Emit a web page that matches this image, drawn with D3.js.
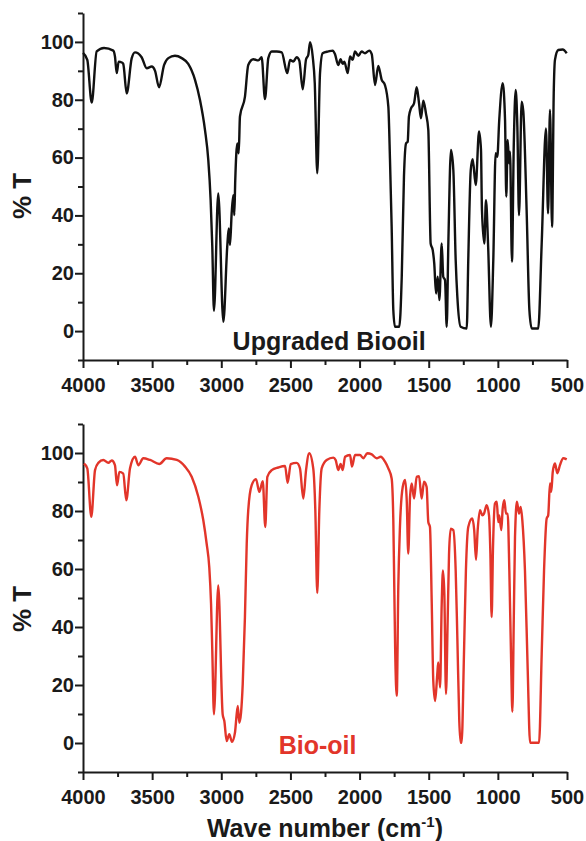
<!DOCTYPE html>
<html>
<head>
<meta charset="utf-8">
<script src="https://cdn.jsdelivr.net/npm/d3@7"></script>
<style>
  html, body { margin: 0; padding: 0; background: #fff; }
  svg { display: block; }
  text { font-family: "Liberation Sans", Arial, Helvetica, sans-serif; font-weight: bold; }
</style>
</head>
<body>
<div id="chart"></div>
<script>
// ---- data ----
const xTicks = [4000, 3500, 3000, 2500, 2000, 1500, 1000, 500];
const xMinor = [3750, 3250, 2750, 2250, 1750, 1250, 750];
const yTicks = [0, 20, 40, 60, 80, 100];
const yMinor = [-10, 10, 30, 50, 70, 90, 110];

// upgraded biooil (top panel)
const upWave = [
  4000, 3969, 3937, 3901, 3848, 3781, 3769, 3756, 3742, 3720,
  3709, 3684, 3648, 3624, 3576, 3539, 3503, 3479, 3450, 3414,
  3383, 3335, 3286, 3239, 3190, 3154, 3118, 3094, 3077, 3065,
  3053, 3022, 2985, 2957, 2946, 2937, 2925, 2913, 2906, 2899,
  2884, 2874, 2865, 2829, 2805, 2768, 2732, 2708, 2684, 2660,
  2635, 2599, 2563, 2523, 2503, 2479, 2455, 2436, 2411, 2387,
  2371, 2358, 2339, 2324, 2306, 2286, 2267, 2226, 2194, 2178,
  2154, 2137, 2122, 2110, 2086, 2069, 2050, 2033, 2009, 1985,
  1961, 1930, 1912, 1888, 1865, 1840, 1816, 1792, 1780, 1768,
  1756, 1744, 1713, 1695, 1679, 1664, 1652, 1643, 1628, 1606,
  1587, 1570, 1556, 1539, 1520, 1503, 1486, 1471, 1460, 1447,
  1435, 1423, 1406, 1395, 1382, 1370, 1358, 1339, 1322, 1305,
  1293, 1269, 1225, 1214, 1196, 1182, 1160, 1136, 1122, 1115,
  1098, 1086, 1071, 1050, 1033, 1016, 1004, 990, 965, 948,
  939, 929, 919, 912, 898, 885, 871, 859, 847, 828,
  816, 792, 772, 755, 708, 683, 652, 637, 623, 608,
  596, 587, 563, 531, 502
];
const upT = [
  96.2, 93.8, 79, 96.7, 97.9, 97, 95, 89.2, 93.2, 92.9,
  92.4, 82.2, 94.3, 96.4, 94.7, 90.9, 91.5, 90, 84.3, 92,
  94.4, 95.2, 94.4, 92.4, 86.9, 79.9, 69.6, 59.2, 45.3, 29.2,
  7, 47.6, 3.2, 29.2, 35.5, 29.8, 40.7, 47, 40.1, 52.2,
  64.9, 61.5, 74.2, 81, 92, 94, 93.6, 94.7, 80.2, 94.4,
  96.7, 96.7, 96.4, 89.2, 93.8, 93.2, 94.7, 93.6, 83.6, 94,
  95.5, 99.9, 95, 85.7, 54.6, 89.2, 96.1, 96.7, 97, 95.8,
  92, 94, 92.4, 93.2, 89.2, 95, 93.8, 96.7, 95.2, 96.7,
  96.1, 97, 95.8, 85.1, 91.7, 86.9, 85, 77.6, 59.2, 36.1,
  7.3, 1.5, 1.5, 18.8, 53.4, 64.9, 65.5, 74.2, 77, 78.8,
  84.3, 78.8, 73.6, 79.7, 75.3, 69.6, 30.3, 28, 23.4, 13,
  18.8, 10.7, 30.3, 18.8, 17.6, 1.5, 30.3, 62.6, 55.7, 24.6,
  11.9, 1.5, 0.9, 24.6, 55.7, 59.4, 50.5, 69, 62.7, 41.9,
  30.3, 45.3, 30.3, 1.5, 24.6, 61.5, 60.3, 73, 85.7, 73,
  46.5, 66.1, 58, 62, 24, 64, 83.4, 70.7, 40.1, 79.3,
  76, 41.9, 7.3, 0.9, 0.9, 30.3, 70.1, 40.7, 76.5, 36.1,
  82.2, 93.8, 97.2, 97.4, 96.1
];

// bio-oil (bottom panel)
const bioWave = [
  3993, 3969, 3940, 3913, 3889, 3853, 3817, 3792, 3769, 3754,
  3737, 3709, 3687, 3660, 3624, 3600, 3564, 3515, 3448, 3395,
  3322, 3262, 3214, 3166, 3130, 3106, 3087, 3074, 3065, 3053,
  3022, 2990, 2978, 2961, 2942, 2923, 2901, 2881, 2870, 2857,
  2845, 2829, 2816, 2805, 2780, 2749, 2725, 2700, 2682, 2667,
  2635, 2588, 2539, 2520, 2498, 2455, 2431, 2407, 2387, 2364,
  2335, 2320, 2306, 2291, 2274, 2238, 2190, 2173, 2154, 2137,
  2122, 2105, 2069, 2055, 2033, 1997, 1973, 1944, 1912, 1876,
  1847, 1816, 1792, 1768, 1756, 1749, 1742, 1731, 1720, 1708,
  1688, 1671, 1659, 1648, 1635, 1623, 1606, 1587, 1570, 1551,
  1534, 1515, 1503, 1491, 1478, 1467, 1454, 1438, 1431, 1418,
  1406, 1397, 1387, 1375, 1363, 1353, 1341, 1322, 1305, 1293,
  1279, 1269, 1262, 1245, 1231, 1214, 1185, 1171, 1158, 1146,
  1129, 1112, 1100, 1081, 1064, 1054, 1045, 1035, 1021, 1008,
  997, 990, 975, 965, 953, 941, 929, 917, 905, 895,
  885, 876, 862, 847, 835, 823, 804, 784, 767, 702,
  683, 666, 647, 636, 623, 614, 603, 587, 570, 551,
  527, 502
];
const bioT = [
  96.4, 94.7, 78, 94.1, 96.6, 97.6, 96.6, 97.4, 95.8, 88.9,
  93.5, 92.9, 83.7, 94.7, 98.7, 95.8, 98.2, 97.6, 96.2, 98.2,
  97.6, 95.3, 91.8, 84.9, 76.8, 68.8, 60.7, 48, 31.8, 9.9,
  54.3, 9.9, 7.6, 0.7, 3, 0.4, 3.6, 12.8, 7, 10.5,
  20.3, 43.4, 68.8, 80.3, 88.9, 91, 86.6, 90.3, 74.5, 91.8,
  94.1, 95, 95.5, 89.7, 96.2, 96.6, 94.7, 84.3, 94.1, 99.9,
  94.7, 80.3, 51.7, 80.3, 94.7, 97.6, 98.4, 97.6, 94.1, 96.2,
  94.1, 98.7, 99.3, 95.3, 99.3, 99.3, 98.2, 99.9, 99.5, 98.2,
  98.7, 97, 94.7, 91.2, 76.8, 53.7, 30.7, 16.3, 53.7, 74.5,
  88.3, 90.7, 83.7, 65.3, 84.9, 89.5, 84.3, 91.8, 92, 84.3,
  90.1, 88.3, 76.2, 74.5, 48, 21.5, 14.5, 23.8, 27.8, 19.1,
  48, 59.5, 51.5, 16.9, 42.2, 65.3, 73.9, 73.4, 59.5, 36.4,
  7.6, 0.1, 0.1, 30.7, 59.5, 74.5, 77.4, 73.4, 63.2, 73.4,
  80.3, 78.5, 79.1, 82, 78.5, 65.3, 43.4, 67.6, 82.6, 83.2,
  76.2, 78.5, 73.4, 80.9, 83.7, 79.1, 79.1, 59.5, 30.7, 10.8,
  42.2, 71, 83.2, 79.1, 81.4, 76.8, 59.5, 24.9, 0.1, 0.1,
  30.7, 59.5, 77.4, 78.5, 89.5, 86.6, 93.5, 96.4, 93, 95.8,
  98.2, 97.8
];

const upLabel = "Upgraded Biooil";
const bioLabel = "Bio-oil";

// ---- layout ----
const width = 586, height = 841;
const ink = "#1a1a1a";
const red = "#e2352a";

const svg = d3.select("#chart").append("svg")
  .attr("width", width)
  .attr("height", height);

const x = d3.scaleLinear().domain([4000, 500]).range([83, 567]);

function drawPanel(opts) {
  const y = d3.scaleLinear().domain([-10, 110]).range([opts.bottom, opts.top]);
  const g = svg.append("g");

  // x axis, major + minor
  const xa = g.append("g")
    .attr("transform", `translate(0,${opts.bottom})`)
    .call(d3.axisBottom(x).tickValues(xTicks).tickSize(8).tickSizeOuter(0).tickPadding(10).tickFormat(d3.format("d")));
  g.append("g")
    .attr("transform", `translate(0,${opts.bottom})`)
    .call(d3.axisBottom(x).tickValues(xMinor).tickSize(5).tickFormat(""))
    .select(".domain").remove();

  // y axis, major + minor
  const ya = g.append("g")
    .attr("transform", `translate(${x(4000)},0)`)
    .call(d3.axisLeft(y).tickValues(yTicks).tickSize(8).tickSizeOuter(0).tickPadding(1));
  g.append("g")
    .attr("transform", `translate(${x(4000)},0)`)
    .call(d3.axisLeft(y).tickValues(yMinor).tickSize(5).tickFormat(""))
    .select(".domain").remove();

  g.selectAll(".domain, .tick line")
    .attr("stroke", ink)
    .attr("stroke-width", 2);
  g.selectAll(".tick text")
    .attr("fill", ink)
    .style("font-size", "20px")
    .style("font-weight", "bold")
    .style("font-family", "'Liberation Sans', Arial, sans-serif");

  // spectrum
  const pts = opts.wave.map((w, i) => [w, opts.t[i]]);
  const line = d3.line()
    .x(d => x(d[0]))
    .y(d => y(d[1]))
    .curve(d3.curveMonotoneX);
  g.append("path")
    .datum(pts)
    .attr("fill", "none")
    .attr("stroke", opts.color)
    .attr("stroke-width", 2.4)
    .attr("stroke-linejoin", "round")
    .attr("d", line);

  // panel label
  g.append("text")
    .attr("x", x(opts.labelAt[0]))
    .attr("y", y(opts.labelAt[1]))
    .attr("text-anchor", "middle")
    .attr("fill", opts.labelColor)
    .style("font-size", "25px")
    .text(opts.label);

  // y title
  g.append("text")
    .attr("transform", `translate(31,${opts.titleY}) rotate(-90)`)
    .attr("text-anchor", "middle")
    .attr("fill", ink)
    .style("font-size", "26px")
    .text("% T");
}

drawPanel({
  top: 13, bottom: 360,
  wave: upWave, t: upT, color: "#111111",
  label: upLabel, labelColor: ink, labelAt: [2220, -6.5],
  titleY: 196
});

drawPanel({
  top: 424, bottom: 772,
  wave: bioWave, t: bioT, color: red,
  label: bioLabel, labelColor: red, labelAt: [2304, -3.8],
  titleY: 609
});

// x title
const xt = svg.append("text")
  .attr("x", 325)
  .attr("y", 837)
  .attr("text-anchor", "middle")
  .attr("fill", ink)
  .style("font-size", "25px");
xt.append("tspan").text("Wave number (cm");
xt.append("tspan").attr("dy", -10).style("font-size", "15px").text("-1");
xt.append("tspan").attr("dy", 10).text(")");
</script>
</body>
</html>
